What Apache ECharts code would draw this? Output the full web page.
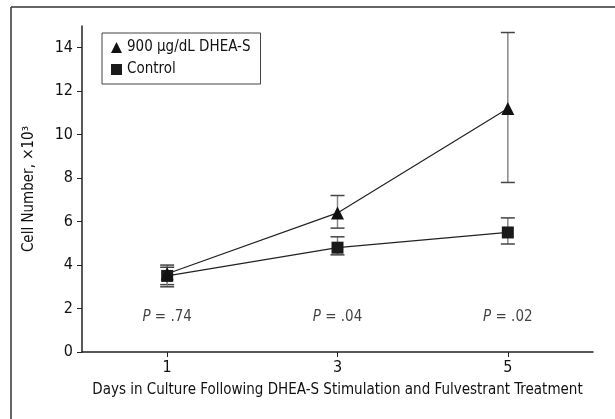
<!DOCTYPE html>
<html>
<head>
<meta charset="utf-8">
<script src="https://cdn.jsdelivr.net/npm/echarts@6/dist/echarts.min.js"></script>
<style>
  html, body { margin: 0; padding: 0; background: #fff; }
  #main { width: 615px; height: 419px; }
</style>
</head>
<body>
<div id="main"></div>
<script>
const days = [1, 3, 5];
const dheaMean = [3.6, 6.4, 11.2];
const dheaLow = [3.1, 5.7, 7.8];
const dheaHigh = [4.0, 7.2, 14.7];
const ctlMean = [3.5, 4.8, 5.5];
const ctlLow = [3.0, 4.47, 4.97];
const ctlHigh = [3.9, 5.3, 6.17];
const pLabels = ['.74', '.04', '.02'];
const pLevel = 1.6;
const yTicks = [0, 2, 4, 6, 8, 10, 12, 14];

const FONT = '"DejaVu Sans Condensed", "Liberation Sans Narrow", "Arial Narrow", sans-serif';

const chart = echarts.init(document.getElementById('main'));

function errData(low, high) {
  return days.map((d, i) => [d, low[i], high[i]]);
}

// vertical bar with a cap at each end
function renderErr(params, api) {
  const x = api.value(0);
  const lo = api.coord([x, api.value(1)]);
  const hi = api.coord([x, api.value(2)]);
  const w = 7;
  const st = { stroke: '#444', lineWidth: 1.5 };
  return {
    type: 'group',
    children: [
      { type: 'line', shape: { x1: lo[0], y1: lo[1], x2: hi[0], y2: hi[1] }, style: { stroke: '#888', lineWidth: 1.5 } },
      { type: 'line', shape: { x1: lo[0] - w, y1: lo[1], x2: lo[0] + w, y2: lo[1] }, style: st },
      { type: 'line', shape: { x1: hi[0] - w, y1: hi[1], x2: hi[0] + w, y2: hi[1] }, style: st }
    ]
  };
}

const option = {
  animation: false,
  backgroundColor: '#fff',
  textStyle: { fontFamily: FONT },
  graphic: [
    { type: 'line', shape: { x1: 11, y1: 7, x2: 615, y2: 7 }, style: { stroke: '#333', lineWidth: 1.5 } },
    { type: 'line', shape: { x1: 11, y1: 7, x2: 11, y2: 419 }, style: { stroke: '#333', lineWidth: 1.5 } }
  ],
  grid: { left: 82, right: 22, top: 26, bottom: 67 },
  legend: {
    orient: 'vertical',
    left: 102,
    top: 33,
    padding: [7, 10, 7, 9],
    itemGap: 7,
    itemWidth: 11,
    itemHeight: 11,
    borderColor: '#444',
    borderWidth: 1,
    textStyle: { fontFamily: FONT, fontSize: 15, color: '#111' },
    data: [
      { name: '900 \u03bcg/dL DHEA-S', icon: 'triangle' },
      { name: 'Control', icon: 'rect' }
    ]
  },
  xAxis: {
    type: 'value',
    min: 0,
    max: 6,
    name: 'Days in Culture Following DHEA-S Stimulation and Fulvestrant Treatment',
    nameLocation: 'middle',
    nameGap: 31,
    nameTextStyle: { fontFamily: FONT, fontSize: 15, color: '#111' },
    splitLine: { show: false },
    axisLine: { lineStyle: { color: '#222', width: 1.5 } },
    axisTick: { show: true, length: 5, customValues: days, lineStyle: { color: '#222' } },
    axisLabel: { customValues: days, margin: 8, fontFamily: FONT, fontSize: 16, color: '#111' }
  },
  yAxis: {
    type: 'value',
    min: 0,
    max: 15,
    name: 'Cell Number, \u00d710\u00b3',
    nameLocation: 'middle',
    nameGap: 45,
    nameTextStyle: { fontFamily: FONT, fontSize: 15, color: '#111' },
    splitLine: { show: false },
    axisLine: { show: true, lineStyle: { color: '#222', width: 1.5 } },
    axisTick: { show: true, length: 5, customValues: yTicks, lineStyle: { color: '#222' } },
    axisLabel: { customValues: yTicks, margin: 9, fontFamily: FONT, fontSize: 16, color: '#111' }
  },
  series: [
    {
      type: 'custom',
      renderItem: renderErr,
      data: errData(dheaLow, dheaHigh),
      z: 1,
      silent: true
    },
    {
      type: 'custom',
      renderItem: renderErr,
      data: errData(ctlLow, ctlHigh),
      z: 1,
      silent: true
    },
    {
      name: 'Control',
      type: 'line',
      data: days.map((d, i) => [d, ctlMean[i]]),
      symbol: 'rect',
      symbolSize: 12,
      itemStyle: { color: '#1a1a1a' },
      lineStyle: { color: '#222', width: 1.2 },
      z: 3
    },
    {
      name: '900 \u03bcg/dL DHEA-S',
      type: 'line',
      data: days.map((d, i) => [d, dheaMean[i]]),
      symbol: 'triangle',
      symbolSize: 13,
      itemStyle: { color: '#111' },
      lineStyle: { color: '#222', width: 1.2 },
      z: 4
    },
    {
      type: 'scatter',
      symbolSize: 0,
      silent: true,
      data: days.map((d, i) => ({ value: [d, pLevel] })),
      label: {
        show: true,
        position: 'inside',
        formatter: (p) => '{i|P}{n| = ' + pLabels[p.dataIndex] + '}',
        rich: {
          i: { fontFamily: FONT, fontSize: 15, fontStyle: 'italic', color: '#111' },
          n: { fontFamily: FONT, fontSize: 15, color: '#111' }
        }
      }
    }
  ]
};

chart.setOption(option);
</script>
</body>
</html>
